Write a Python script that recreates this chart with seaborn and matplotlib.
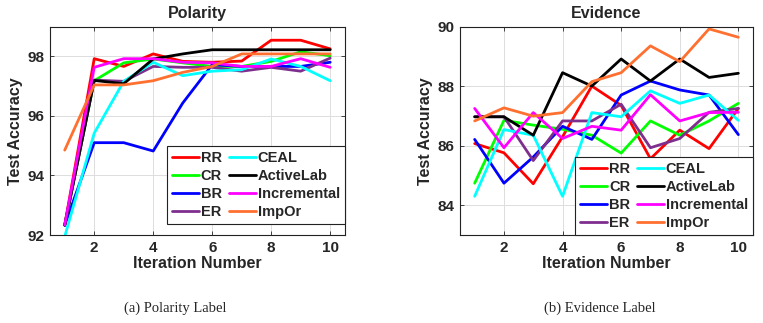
# -*- coding: utf-8 -*-
"""
Test accuracy per active-learning iteration for the Polarity and Evidence labels.
"""

import pandas as pd
import matplotlib.pyplot as plt
import seaborn as sns


# =============================================================================
# Data
# =============================================================================

iterations = [1, 2, 3, 4, 5, 6, 7, 8, 9, 10]
methods = ['RR', 'CR', 'BR', 'ER', 'CEAL', 'ActiveLab', 'Incremental', 'ImpOr']

polarity_rr = [92.33, 97.92, 97.66, 98.08, 97.83, 97.80, 97.84, 98.54, 98.54, 98.25]
polarity_cr = [92.33, 97.18, 97.78, 97.91, 97.78, 97.66, 97.66, 97.83, 98.15, 98.02]
polarity_br = [92.33, 95.10, 95.10, 94.82, 96.43, 97.72, 97.66, 97.66, 97.66, 97.80]
polarity_er = [92.33, 97.20, 97.16, 97.66, 97.63, 97.63, 97.50, 97.63, 97.50, 97.94]
polarity_ceal = [91.95, 95.42, 97.16, 97.80, 97.35, 97.50, 97.55, 97.91, 97.66, 97.18]
polarity_activelab = [92.33, 97.19, 97.08, 97.91, 98.08, 98.22, 98.22, 98.22, 98.22, 98.22]
polarity_incremental = [92.34, 97.63, 97.92, 97.92, 97.80, 97.78, 97.66, 97.66, 97.92, 97.63]
polarity_impor = [94.85, 97.04, 97.04, 97.18, 97.46, 97.66, 98.08, 98.08, 98.08, 98.08]

evidence_rr = [86.07, 85.76, 84.72, 86.30, 88.00, 87.35, 85.56, 86.52, 85.90, 87.25]
evidence_cr = [84.74, 86.85, 86.69, 86.55, 86.35, 85.75, 86.83, 86.35, 86.83, 87.42]
evidence_br = [86.21, 84.74, 85.62, 86.65, 86.21, 87.70, 88.17, 87.87, 87.70, 86.37]
evidence_er = [86.97, 86.97, 85.50, 86.83, 86.83, 87.39, 85.93, 86.24, 87.12, 87.25]
evidence_ceal = [84.30, 86.54, 86.35, 84.30, 87.11, 86.97, 87.84, 87.42, 87.70, 86.85]
evidence_activelab = [86.97, 86.97, 86.35, 88.45, 88.00, 88.91, 88.17, 88.91, 88.29, 88.43]
evidence_incremental = [87.25, 85.93, 87.11, 86.24, 86.65, 86.52, 87.71, 86.83, 87.11, 87.12]
evidence_impor = [86.83, 87.27, 86.99, 87.11, 88.15, 88.45, 89.35, 88.82, 89.92, 89.64]

polarity = [polarity_rr, polarity_cr, polarity_br, polarity_er,
            polarity_ceal, polarity_activelab, polarity_incremental, polarity_impor]
evidence = [evidence_rr, evidence_cr, evidence_br, evidence_er,
            evidence_ceal, evidence_activelab, evidence_incremental, evidence_impor]

colors = ['#FF0000', '#00FF00', '#0000FF', '#7E2F8E',
          '#00FFFF', '#000000', '#FF00FF', '#FF7030']


def to_long(series):
    rows = []
    for name, values in zip(methods, series):
        for it, v in zip(iterations, values):
            rows.append([it, v, name])
    return pd.DataFrame(rows, columns=['iteration', 'accuracy', 'method'])


# =============================================================================
# Plot
# =============================================================================

sns.set_theme(style="whitegrid")
plt.rcParams['font.family'] = ['Liberation Sans', 'DejaVu Sans']
plt.rcParams['font.weight'] = 'bold'

fig = plt.figure(figsize=(7.63, 3.23), dpi=100)
ax1 = fig.add_axes([0.0655, 0.2724, 0.3866, 0.6455])
ax2 = fig.add_axes([0.6029, 0.2724, 0.3840, 0.6455])

panels = [
    (ax1, polarity, 'Polarity', (92, 99), [92, 94, 96, 98], (1.0, 0.053)),
    (ax2, evidence, 'Evidence', (83, 90), [84, 86, 88, 90], (1.0, 0.0)),
]

for ax, series, title, ylim, yticks, anchor in panels:
    sns.lineplot(
        data=to_long(series),
        x='iteration',
        y='accuracy',
        hue='method',
        hue_order=methods,
        palette=colors,
        lw=2,
        ax=ax
    )
    ax.set_xlim(0.5, 10.5)
    ax.set_ylim(*ylim)
    ax.set_xticks([2, 4, 6, 8, 10])
    ax.set_yticks(yticks)
    ax.grid(True, color='#DDDDDD', lw=0.7)
    for sp in ax.spines.values():
        sp.set_color('#222222')
        sp.set_linewidth(0.8)
    ax.tick_params(direction='in', length=3, width=0.6, labelsize=11,
                   top=True, right=True, left=True, bottom=True, pad=4)
    for lab in ax.get_xticklabels() + ax.get_yticklabels():
        lab.set_fontweight('bold')
    ax.set_title(title, fontsize=11.5, fontweight='bold', pad=6)
    ax.set_xlabel('Iteration Number', fontsize=11.5, fontweight='bold', labelpad=1)
    ax.set_ylabel('Test Accuracy', fontsize=11.5, fontweight='bold', labelpad=3)
    leg = ax.legend(ncol=2, loc='lower right', bbox_to_anchor=anchor,
                    fontsize=10.5, frameon=True, fancybox=False,
                    edgecolor='#222222', framealpha=1, handlelength=1.8,
                    handletextpad=0.15, columnspacing=0.5, labelspacing=0.28,
                    borderpad=0.35, borderaxespad=0.0)
    leg.get_frame().set_linewidth(0.8)
    for t in leg.get_texts():
        t.set_fontweight('bold')

fig.text(175 / 763, 1 - 308 / 323, '(a) Polarity Label', ha='center', va='center',
         fontsize=10.5, fontweight='normal', family='Liberation Serif')
fig.text(600 / 763, 1 - 308 / 323, '(b) Evidence Label', ha='center', va='center',
         fontsize=10.5, fontweight='normal', family='Liberation Serif')

plt.savefig('out.png', dpi=100)
